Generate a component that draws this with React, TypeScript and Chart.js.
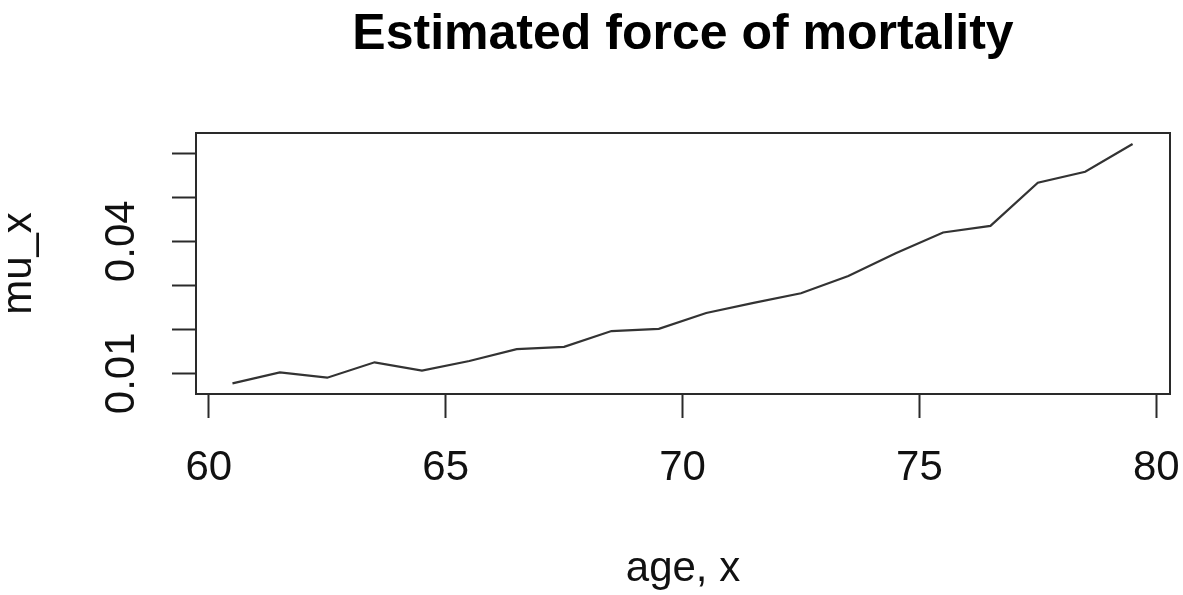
import React, { useEffect, useRef } from 'react';
import { Chart, registerables } from 'chart.js';

Chart.register(...registerables);

// ---- data ----
const ages = [60.5, 61.5, 62.5, 63.5, 64.5, 65.5, 66.5, 67.5, 68.5, 69.5, 70.5, 71.5, 72.5, 73.5, 74.5, 75.5, 76.5, 77.5, 78.5, 79.5];
const mu = [0.0077, 0.0102, 0.009, 0.0125, 0.0106, 0.0128, 0.0155, 0.016, 0.0196, 0.0201, 0.0237, 0.026, 0.0282, 0.0321, 0.0373, 0.042, 0.0435, 0.0533, 0.0558, 0.0621];
const xTicks = [60, 65, 70, 75, 80];
const xTickLabels = ['60', '65', '70', '75', '80'];
const yTicks = [0.01, 0.02, 0.03, 0.04, 0.05, 0.06];
const yTickLabels = ['0.01', '', '', '0.04', '', ''];
const titleText = 'Estimated force of mortality';
const xTitleText = 'age, x';
const yTitleText = 'mu_x';

const FONT = "'Liberation Sans', Arial, Helvetica, sans-serif";
const INK = '#111111';
const LINE = '#2a2a2a';

const boxPlugin = {
  id: 'rbox',
  afterDatasetsDraw(chart: any) {
    const { ctx, chartArea: a } = chart;
    ctx.save();
    ctx.strokeStyle = LINE;
    ctx.lineWidth = 2;
    ctx.strokeRect(a.left, a.top, a.right - a.left, a.bottom - a.top);
    ctx.restore();
  },
};

export default function App() {
  const ref = useRef<HTMLCanvasElement | null>(null);

  useEffect(() => {
    if (!ref.current) return;
    const chart = new Chart(ref.current, {
      type: 'line',
      data: {
        datasets: [
          {
            data: ages.map((a, i) => ({ x: a, y: mu[i] })),
            borderColor: '#333333',
            borderWidth: 2.2,
            pointRadius: 0,
            fill: false,
            tension: 0,
          },
        ],
      },
      options: {
        animation: false,
        responsive: false,
        devicePixelRatio: 1,
        events: [],
        layout: { padding: { top: 0, left: 0, right: 13, bottom: 0 } },
        plugins: {
          legend: { display: false },
          tooltip: { enabled: false },
          title: {
            display: true,
            text: titleText,
            fullSize: false,
            color: '#000',
            font: { family: FONT, size: 50, weight: 'bold', lineHeight: 1 },
            padding: { top: 10, bottom: 73 },
          },
        },
        scales: {
          x: {
            type: 'linear',
            min: 59.73,
            max: 80.29,
            afterBuildTicks: (s: any) => {
              s.ticks = xTicks.map((v) => ({ value: v }));
            },
            afterFit: (s: any) => {
              s.height = 201;
              s.paddingLeft = 0;
              s.paddingRight = 0;
            },
            grid: {
              display: true,
              drawOnChartArea: false,
              drawTicks: true,
              tickLength: 24,
              tickWidth: 2,
              tickColor: LINE,
            },
            border: { display: false },
            ticks: {
              autoSkip: false,
              maxRotation: 0,
              minRotation: 0,
              padding: 25,
              color: INK,
              font: { family: FONT, size: 42, lineHeight: 1.2 },
              callback: (_v: any, i: number) => xTickLabels[i],
            },
            title: {
              display: true,
              text: xTitleText,
              color: INK,
              font: { family: FONT, size: 42, lineHeight: 1.2 },
              padding: { top: 0, bottom: 0 },
            },
          },
          y: {
            type: 'linear',
            min: 0.0053,
            max: 0.0646,
            afterBuildTicks: (s: any) => {
              s.ticks = yTicks.map((v) => ({ value: v }));
            },
            afterFit: (s: any) => {
              s.width = 196;
              s.paddingTop = 0;
              s.paddingBottom = 0;
            },
            grid: {
              display: true,
              drawOnChartArea: false,
              drawTicks: true,
              tickLength: 24,
              tickWidth: 2,
              tickColor: LINE,
            },
            border: { display: false },
            ticks: {
              autoSkip: false,
              minRotation: 90,
              maxRotation: 90,
              crossAlign: 'center',
              padding: 8.7,
              color: INK,
              font: { family: FONT, size: 42, lineHeight: 1.2 },
              callback: (_v: any, i: number) => yTickLabels[i],
            },
            title: {
              display: true,
              text: yTitleText,
              color: INK,
              font: { family: FONT, size: 42, lineHeight: 0.92 },
              padding: { top: 0, bottom: 0 },
            },
          },
        },
      } as any,
      plugins: [boxPlugin],
    });
    return () => chart.destroy();
  }, []);

  return (
    <div style={{ position: 'absolute', left: 0, top: 0, width: 1183, height: 595, background: '#fff' }}>
      <canvas ref={ref} width={1183} height={595} style={{ display: 'block', width: 1183, height: 595 }} />
    </div>
  );
}
